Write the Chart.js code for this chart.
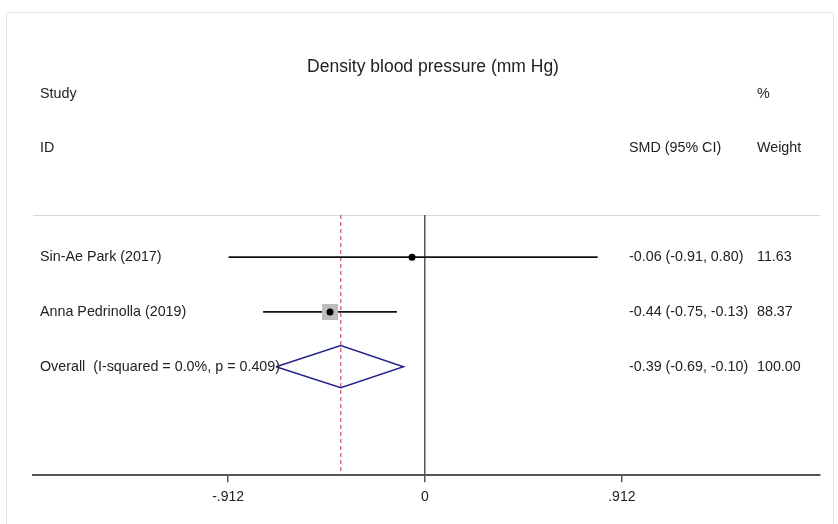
<!DOCTYPE html>
<html>
<head>
<meta charset="utf-8">
<title>Density blood pressure forest plot</title>
<script src="https://cdn.jsdelivr.net/npm/chart.js@4"></script>
<style>
  html, body { margin: 0; padding: 0; background: #fff; }
  #wrap { position: relative; width: 838px; height: 524px; overflow: hidden; }
  #card { position: absolute; left: 6px; top: 12px; width: 828px; height: 530px;
          border: 1px solid #e4e8e8; box-sizing: border-box; }
  #plot { position: absolute; left: 0; top: 0; }
</style>
</head>
<body>
<div id="wrap">
  <div id="card"></div>
  <canvas id="plot" width="838" height="524"></canvas>
</div>
<script>
// ─── Data ────────────────────────────────────────────────────
const studies  = ['Sin-Ae Park (2017)', 'Anna Pedrinolla (2019)'];
const smd      = [-0.06, -0.44];
const ciLow    = [-0.91, -0.75];
const ciHigh   = [0.80, -0.13];
const weights  = [11.63, 88.37];
const ciText   = ['-0.06 (-0.91, 0.80)', '-0.44 (-0.75, -0.13)'];
const weightText = ['11.63', '88.37'];

const overallLabel  = 'Overall  (I-squared = 0.0%, p = 0.409)';
const overallEst    = -0.39;
const overallLow    = -0.69;
const overallHigh   = -0.10;
const overallCiText = '-0.39 (-0.69, -0.10)';
const overallWeight = '100.00';

const xTicks      = [-0.912, 0, 0.912];
const xTickLabels = ['-.912', '0', '.912'];

// ─── Layout constants ────────────────────────────────────────
const X_MIN = -1.816, X_MAX = 1.830;
const Y_MIN = 0.23,   Y_MAX = 4.98;
const FONT  = "'Liberation Sans', Arial, Helvetica, sans-serif";
const TXT   = '#222';

const rowY      = studies.map((_, i) => i + 1);
const overallY  = studies.length + 1;
const maxW      = Math.max(...weights);
// square side ~ sqrt(weight), biggest one 16px
const boxRadius = weights.map((w) => (16 * Math.sqrt(w / maxW)) / Math.SQRT2);

const datasets = [];

// point estimates (on top)
datasets.push({
  type: 'scatter',
  data: smd.map((v, i) => ({ x: v, y: rowY[i] })),
  pointRadius: 3.5,
  pointBackgroundColor: '#000',
  pointBorderWidth: 0,
  order: 1,
});

// weight boxes
datasets.push({
  type: 'scatter',
  data: smd.map((v, i) => ({ x: v, y: rowY[i] })),
  pointStyle: 'rect',
  pointRadius: boxRadius,
  pointBackgroundColor: '#bdbdbd',
  pointBorderWidth: 0,
  order: 2,
});

// confidence intervals
studies.forEach((s, i) => {
  datasets.push({
    type: 'line',
    data: [{ x: ciLow[i], y: rowY[i] }, { x: ciHigh[i], y: rowY[i] }],
    borderColor: '#111',
    borderWidth: 1.8,
    pointRadius: 0,
    order: 3,
  });
});

// overall diamond
const dh = 0.385;
datasets.push({
  type: 'line',
  data: [
    { x: overallLow,  y: overallY },
    { x: overallEst,  y: overallY - dh },
    { x: overallHigh, y: overallY },
    { x: overallEst,  y: overallY + dh },
    { x: overallLow,  y: overallY },
  ],
  borderColor: '#23238c',
  borderWidth: 1.5,
  pointRadius: 0,
  fill: false,
  tension: 0,
  order: 2,
});

// overall effect reference line
datasets.push({
  type: 'line',
  data: [{ x: overallEst, y: Y_MIN }, { x: overallEst, y: Y_MAX }],
  borderColor: '#b83a48',
  borderWidth: 1,
  borderDash: [4, 3],
  pointRadius: 0,
  order: 5,
});

// ─── Text columns ────────────────────────────────────────────
const textPlugin = {
  id: 'forestText',
  beforeDraw(chart) {
    const { ctx, chartArea } = chart;
    // separator under the header
    ctx.save();
    ctx.strokeStyle = '#d8d8d8';
    ctx.lineWidth = 1.2;
    ctx.beginPath();
    ctx.moveTo(chartArea.left, 215.5);
    ctx.lineTo(chartArea.right, 215.5);
    ctx.stroke();
    ctx.restore();
  },
  afterDraw(chart) {
    const { ctx } = chart;
    const y = chart.scales.y;
    ctx.save();
    ctx.fillStyle = TXT;
    ctx.textBaseline = 'middle';

    ctx.font = `17.5px ${FONT}`;
    ctx.textAlign = 'center';
    ctx.fillText('Density blood pressure (mm Hg)', 433, 67);

    ctx.font = `14.3px ${FONT}`;
    ctx.textAlign = 'left';
    ctx.fillText('Study', 40, 94);
    ctx.fillText('ID', 40, 148);
    ctx.fillText('%', 757, 94);
    ctx.fillText('SMD (95% CI)', 629, 148);
    ctx.fillText('Weight', 757, 148);

    studies.forEach((s, i) => {
      const py = y.getPixelForValue(rowY[i]);
      ctx.fillText(s, 40, py);
      ctx.fillText(ciText[i], 629, py);
      ctx.fillText(weightText[i], 757, py);
    });
    const oy = y.getPixelForValue(overallY);
    ctx.fillText(overallLabel, 40, oy);
    ctx.fillText(overallCiText, 629, oy);
    ctx.fillText(overallWeight, 757, oy);
    ctx.restore();
  },
};

new Chart(document.getElementById('plot'), {
  data: { datasets },
  options: {
    responsive: false,
    animation: false,
    layout: { padding: { left: 33, right: 18, top: 215, bottom: 11 } },
    plugins: { legend: { display: false }, tooltip: { enabled: false } },
    scales: {
      x: {
        type: 'linear',
        min: X_MIN,
        max: X_MAX,
        afterBuildTicks: (scale) => { scale.ticks = xTicks.map((v) => ({ value: v })); },
        ticks: {
          autoSkip: false,
          maxRotation: 0,
          padding: 7,
          color: TXT,
          font: { family: FONT, size: 14 },
          callback: (v, i) => xTickLabels[i],
        },
        grid: {
          color: (c) => (c.tick && c.tick.value === 0 ? '#555' : 'rgba(0,0,0,0)'),
          lineWidth: 1.5,
          tickColor: '#555',
          tickLength: 7,
        },
        border: { display: true, color: '#555', width: 2 },
      },
      y: {
        type: 'linear',
        display: false,
        reverse: true,
        min: Y_MIN,
        max: Y_MAX,
      },
    },
  },
  plugins: [textPlugin],
});
</script>
</body>
</html>
